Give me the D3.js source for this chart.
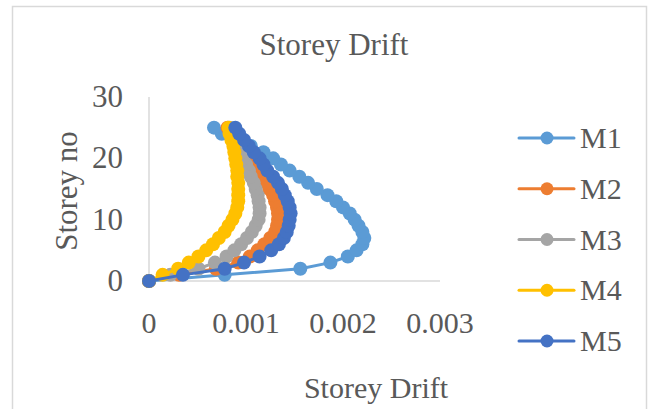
<!DOCTYPE html>
<html>
<head>
<meta charset="utf-8">
<script src="https://cdn.jsdelivr.net/npm/d3@7"></script>
<style>
  html, body { margin: 0; padding: 0; background: #fff; }
  svg { display: block; }
  text { font-family: "Liberation Serif", "Times New Roman", serif; fill: #595959; }
</style>
</head>
<body>
<svg id="chart" width="651" height="409"></svg>
<script>
const storeys = d3.range(0, 26);
const seriesNames = ["M1", "M2", "M3", "M4", "M5"];
const seriesColors = ["#5B9BD5", "#ED7D31", "#A5A5A5", "#FFC000", "#4472C4"];
const M1 = [0, 0.00078, 0.00156, 0.00187, 0.00205, 0.00214, 0.0022, 0.00222, 0.0022, 0.00216, 0.00212, 0.00207, 0.002, 0.00193, 0.00184, 0.00173, 0.00164, 0.00155, 0.00145, 0.00136, 0.00128, 0.00118, 0.00105, 0.00094, 0.00075, 0.00067];
const M2 = [0, 0.00031, 0.00069, 0.00092, 0.00104, 0.00112, 0.00119, 0.00125, 0.0013, 0.00132, 0.00133, 0.00133, 0.00132, 0.0013, 0.00128, 0.00124, 0.00121, 0.00117, 0.00113, 0.00109, 0.00105, 0.00101, 0.00096, 0.00092, 0.00087, 0.00081];
const M3 = [0, 0.00022, 0.00051, 0.00068, 0.0008, 0.00088, 0.00095, 0.00101, 0.00106, 0.0011, 0.00113, 0.00114, 0.00114, 0.00113, 0.00112, 0.0011, 0.00108, 0.00105, 0.00103, 0.001, 0.00097, 0.00095, 0.00092, 0.00089, 0.00086, 0.00083];
const M4 = [0, 0.00014, 0.0003, 0.00041, 0.00051, 0.00059, 0.00066, 0.00072, 0.00078, 0.00082, 0.00086, 0.00089, 0.00091, 0.00092, 0.00092, 0.00092, 0.00092, 0.00091, 0.00091, 0.0009, 0.00089, 0.00088, 0.00087, 0.00085, 0.00083, 0.00082];
const M5 = [0, 0.00035, 0.00078, 0.00098, 0.00114, 0.00126, 0.00134, 0.00139, 0.00142, 0.00144, 0.00145, 0.00146, 0.00145, 0.00143, 0.0014, 0.00137, 0.00133, 0.00128, 0.00122, 0.00118, 0.00114, 0.00108, 0.00103, 0.00098, 0.00093, 0.00089];
const xTicks = [0, 0.001, 0.002, 0.003];
const yTicks = [0, 10, 20, 30];
const chartTitle = "Storey Drift";
const xTitle = "Storey Drift";
const yTitle = "Storey no";

const allSeries = [M1, M2, M3, M4, M5];
const svg = d3.select("#chart");

// frame
svg.append("rect").attr("x", 12.5).attr("y", 6.5).attr("width", 634).attr("height", 420)
  .attr("fill", "#fff").attr("stroke", "#d9d9d9").attr("stroke-width", 1.5);

const x = d3.scaleLinear().domain([0, 0.003]).range([149, 440]);
const y = d3.scaleLinear().domain([0, 30]).range([281, 97]);

// axes lines
svg.append("line").attr("x1", x(0)).attr("x2", x(0.003)).attr("y1", y(0)).attr("y2", y(0))
  .attr("stroke", "#d9d9d9").attr("stroke-width", 1.5);
svg.append("line").attr("x1", x(0)).attr("x2", x(0)).attr("y1", y(0)).attr("y2", y(30))
  .attr("stroke", "#d9d9d9").attr("stroke-width", 1.5);

// tick labels
svg.append("g").selectAll("text").data(xTicks).join("text")
  .attr("x", d => x(d)).attr("y", 333).attr("text-anchor", "middle")
  .attr("font-size", 30).text(d => d === 0 ? "0" : d3.format(".3f")(d));
svg.append("g").selectAll("text").data(yTicks).join("text")
  .attr("x", 123).attr("y", d => y(d) + 10).attr("text-anchor", "end")
  .attr("font-size", 31).text(d => d);

// titles
svg.append("text").attr("x", 334).attr("y", 55).attr("text-anchor", "middle")
  .attr("font-size", 31).text(chartTitle);
svg.append("text").attr("x", 376).attr("y", 398).attr("text-anchor", "middle")
  .attr("font-size", 30).text(xTitle);
svg.append("text").attr("transform", "translate(77,191) rotate(-90)").attr("text-anchor", "middle")
  .attr("font-size", 31).text(yTitle);

// series
const line = d3.line().x(d => x(d[0])).y(d => y(d[1]));
allSeries.forEach((vals, i) => {
  const pts = vals.map((v, k) => [v, storeys[k]]);
  const g = svg.append("g");
  g.append("path").attr("d", line(pts)).attr("fill", "none")
    .attr("stroke", seriesColors[i]).attr("stroke-width", 3).attr("stroke-linejoin", "round");
  g.selectAll("circle").data(pts).join("circle")
    .attr("cx", d => x(d[0])).attr("cy", d => y(d[1])).attr("r", 7)
    .attr("fill", seriesColors[i]);
});

// legend
const legY = d3.scalePoint().domain(seriesNames).range([138, 341]);
const lg = svg.append("g");
seriesNames.forEach((n, i) => {
  const yy = legY(n);
  lg.append("line").attr("x1", 519).attr("x2", 574).attr("y1", yy).attr("y2", yy)
    .attr("stroke", seriesColors[i]).attr("stroke-width", 3).attr("stroke-linecap", "round");
  lg.append("circle").attr("cx", 547).attr("cy", yy).attr("r", 6.5).attr("fill", seriesColors[i]);
  lg.append("text").attr("x", 580).attr("y", yy + 10).attr("font-size", 30).text(n);
});
</script>
</body>
</html>
